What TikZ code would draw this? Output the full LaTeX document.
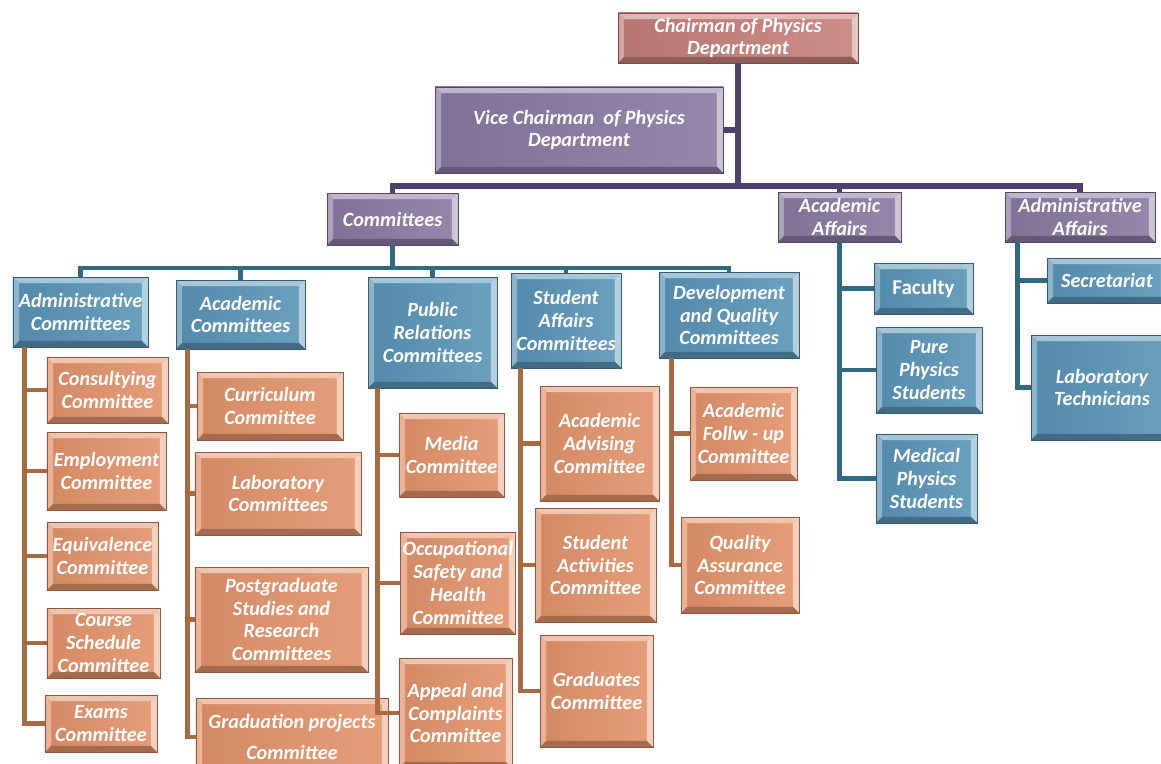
\documentclass[tikz,border=0pt]{standalone}
\usepackage{fontspec}
\setmainfont{Carlito}
\usetikzlibrary{calc}
\definecolor{cpur}{HTML}{8A7BA3}
\definecolor{cchair}{HTML}{C7807B}
\definecolor{cblue}{HTML}{5B96B8}
\definecolor{cora}{HTML}{E4946C}
\definecolor{lpur}{HTML}{4E3F6E}
\definecolor{lteal}{HTML}{2E6A80}
\definecolor{lbrown}{HTML}{A86A42}
\newcommand\boxfont{\fontsize{11.5}{13}\selectfont\bfseries\itshape}
\newcommand\uprfont{\fontsize{12}{13}\selectfont\bfseries}
\def\bv{3.5pt}
\newcommand\obox[7]{%
  \pgfmathsetmacro\oboxw{(#4-#2)*0.02}%
  \pgfmathsetmacro\oboxh{(#5-#3)*0.02}%
  \node[#6, minimum width=\oboxw cm, minimum height=\oboxh cm] (#1) at ({(#2+#4)/2},{(#3+#5)/2}) {#7};}
\tikzset{
  bevbox/.style={draw=#1!60!black, line width=0.5pt, left color=#1!92!black, right color=#1!90!white,
    inner sep=1pt, align=center, text=white, font=\boxfont,
    path picture={
      \fill[#1!55!white] (path picture bounding box.north west) -- (path picture bounding box.north east)
        -- ([shift={(-\bv,-\bv)}]path picture bounding box.north east) -- ([shift={(\bv,-\bv)}]path picture bounding box.north west) -- cycle;
      \fill[#1!72!white] (path picture bounding box.north west) -- ([shift={(\bv,-\bv)}]path picture bounding box.north west)
        -- ([shift={(\bv,\bv)}]path picture bounding box.south west) -- (path picture bounding box.south west) -- cycle;
      \fill[#1!45!white] (path picture bounding box.north east) -- ([shift={(-\bv,-\bv)}]path picture bounding box.north east)
        -- ([shift={(-\bv,\bv)}]path picture bounding box.south east) -- (path picture bounding box.south east) -- cycle;
      \fill[#1!72!black] (path picture bounding box.south west) -- ([shift={(\bv,\bv)}]path picture bounding box.south west)
        -- ([shift={(-\bv,\bv)}]path picture bounding box.south east) -- (path picture bounding box.south east) -- cycle;
    }},
  chairbox/.style={bevbox=cchair},
  purbox/.style={bevbox=cpur},
  bluebox/.style={bevbox=cblue},
  orabox/.style={bevbox=cora},
  pline/.style={draw=lpur, line width=3pt},
  tline/.style={draw=lteal, line width=2.8pt},
  bline/.style={draw=lbrown, line width=2.4pt},
  abline/.style={draw=lteal, line width=2.6pt},
}
\begin{document}
\begin{tikzpicture}[x=0.02cm, y=-0.02cm]
\useasboundingbox (0,0) rectangle (1161,764);
\fill[white] (0,0) rectangle (1161,764);

% top level
\obox{chair}{618}{13}{858}{63}{chairbox}{Chairman of Physics\\Department}
\obox{vice}{435}{87}{723}{173}{purbox}{Vice Chairman~~of Physics\\Department}
\obox{comm}{327}{193}{458}{245}{purbox}{Committees}
\obox{acaff}{778}{192}{901}{242}{purbox}{Academic\\Affairs}
\obox{admaff}{1005}{192}{1155}{242}{purbox}{Administrative\\Affairs}

% committee groups
\obox{admc}{13}{277}{148}{347}{bluebox}{Administrative\\Committees}
\obox{acc}{176}{280}{305}{349}{bluebox}{Academic\\Committees}
\obox{prc}{368}{277}{497}{388}{bluebox}{Public\\Relations\\Committees}
\obox{sac}{511}{273}{621}{368}{bluebox}{Student\\Affairs\\Committees}
\obox{dqc}{659}{272}{799}{358}{bluebox}{Development\\and Quality\\Committees}

% academic affairs
\obox{fac}{874}{263}{973}{314}{bluebox, font=\uprfont}{Faculty}
\obox{pps}{876}{327}{982}{413}{bluebox}{Pure\\Physics\\Students}
\obox{mps}{876}{434}{977}{523}{bluebox}{Medical\\Physics\\Students}

% administrative affairs
\obox{sec}{1047}{258}{1167}{303}{bluebox}{Secretariat}
\obox{lab}{1031}{335}{1173}{440}{bluebox}{Laboratory\\Technicians}

% administrative committees
\obox{cons}{47}{357}{168}{423}{orabox}{Consultying\\Committee}
\obox{emp}{47}{432}{166}{510}{orabox}{Employment\\Committee}
\obox{equ}{47}{522}{158}{590}{orabox}{Equivalence\\Committee}
\obox{cou}{47}{608}{160}{678}{orabox}{Course\\Schedule\\Committee}
\obox{exa}{45}{695}{157}{752}{orabox}{Exams\\Committee}

% academic committees
\obox{cur}{197}{372}{343}{440}{orabox}{Curriculum\\Committee}
\obox{labc}{195}{452}{361}{535}{orabox}{Laboratory\\Committees}
\obox{pg}{195}{567}{368}{672}{orabox}{Postgraduate\\Studies and\\Research\\Committees}
\obox{gp}{196}{698}{388}{776}{orabox}{Graduation projects\\[5pt]Committee}

% public relations
\obox{med}{399}{413}{504}{497}{orabox}{Media\\Committee}
\obox{occ}{401}{532}{515}{634}{orabox}{Occupational\\Safety and\\Health\\Committee}
\obox{app}{399}{658}{512}{768}{orabox}{Appeal and\\Complaints\\Committee}

% student affairs
\obox{aad}{540}{386}{659}{501}{orabox}{Academic\\Advising\\Committee}
\obox{sta}{535}{508}{656}{622}{orabox}{Student\\Activities\\Committee}
\obox{gra}{540}{635}{653}{747}{orabox}{Graduates\\Committee}

% development and quality
\obox{afu}{690}{387}{797}{480}{orabox}{Academic\\Follw - up\\Committee}
\obox{qac}{681}{517}{799}{613}{orabox}{Quality\\Assurance\\Committee}

% ---- connectors ----
\coordinate (hb) at (0,186);
\coordinate (cb) at (0,268);
\draw[pline] (chair.south) -- (chair.south |- hb) -| (comm.north);
\draw[pline] (chair.south |- hb) -| (acaff.north);
\draw[pline] (chair.south |- hb) -| (admaff.north);
\draw[pline] (vice.east) -- (vice.east -| chair.south);

\foreach \c in {admc,acc,prc,sac,dqc}
  \draw[tline] (comm.south) -- (comm.south |- cb) -| (\c.north);

\coordinate (tadmc) at ($(admc.south west)+(12,0)$);
\coordinate (tacc) at ($(acc.south west)+(12,0)$);
\coordinate (tprc) at ($(prc.south west)+(10,0)$);
\coordinate (tsac) at ($(sac.south west)+(10,0)$);
\coordinate (tdqc) at ($(dqc.south west)+(13,0)$);
\coordinate (tacaff) at (acaff.south);
\coordinate (tadmaff) at ($(admaff.south west)+(13,0)$);

\foreach \c in {cons,emp,equ,cou,exa} \draw[bline] (tadmc) |- (\c.west);
\foreach \c in {cur,labc,pg,gp} \draw[bline] (tacc) |- (\c.west);
\foreach \c in {med,occ,app} \draw[bline] (tprc) |- (\c.west);
\foreach \c in {aad,sta,gra} \draw[bline] (tsac) |- (\c.west);
\foreach \c in {afu,qac} \draw[bline] (tdqc) |- (\c.west);
\foreach \c in {fac,pps,mps} \draw[abline] (tacaff) |- (\c.west);
\foreach \c in {sec,lab} \draw[abline] (tadmaff) |- (\c.west);
\end{tikzpicture}
\end{document}
